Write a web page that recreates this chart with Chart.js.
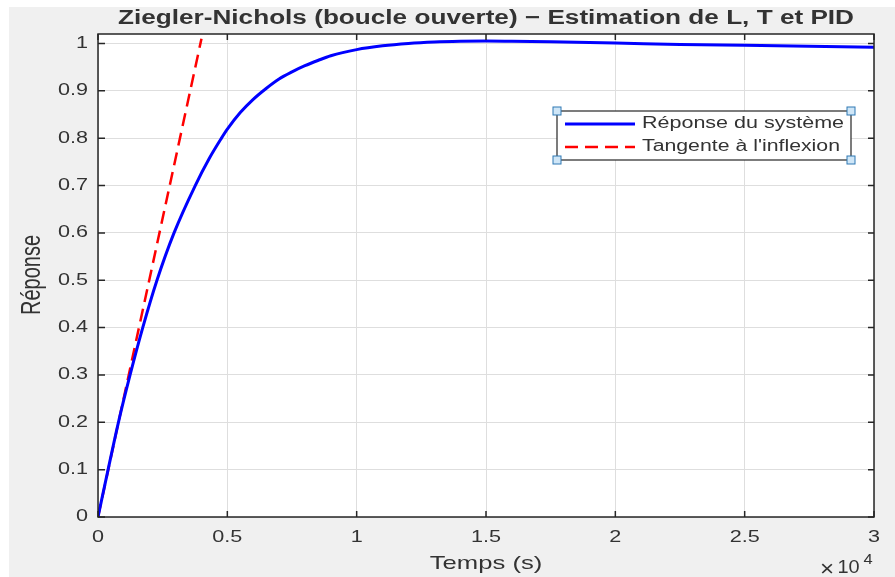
<!DOCTYPE html>
<html>
<head>
<meta charset="utf-8">
<script src="https://cdn.jsdelivr.net/npm/chart.js@4.4.0/dist/chart.umd.min.js"></script>
<style>
  body { margin: 0; background: #fff; }
  #graphe { display: block; }
</style>
</head>
<body>
<canvas id="graphe" width="895" height="577"></canvas>
<script>
// donnees (temps en s)
var temps = [0, 390, 790, 1240, 1730, 2280, 2940, 3760, 4300, 4750, 5000, 5500, 6000, 6500, 7000, 7500, 8000, 8500, 9000, 10000, 11000, 12000, 13000, 14000, 15000, 16000, 17500, 20000, 22500, 25000, 27500, 30000]
var reponse = [0, 0.1, 0.2, 0.3, 0.4, 0.5, 0.6, 0.7, 0.757, 0.798, 0.819, 0.854, 0.882, 0.905, 0.925, 0.94, 0.953, 0.964, 0.974, 0.987, 0.995, 1.0, 1.003, 1.0045, 1.005, 1.0045, 1.0035, 1.001, 0.998, 0.996, 0.994, 0.992]
var tempsTangente = [0, 4000]
var tangente = [0, 1.01]
var ticksX = [0, 5000, 10000, 15000, 20000, 25000, 30000]
var titre = "Ziegler-Nichols (boucle ouverte) \u2212 Estimation de L, T et PID"
var nomsSeries = ["Réponse du système", "Tangente à l'inflexion"]

var etirement = 1.35
var couleurTexte = "#333333"

function points(xs, ys) {
    var res = []
    for (var i = 0; i < xs.length; i++) res.push({ x: xs[i], y: ys[i] })
    return res
}

// texte etire horizontalement comme sur la capture
function ecrire(ctx, s, x, y, font, align, largeur, sxFixe) {
    ctx.save()
    ctx.font = font
    var sx = sxFixe || etirement
    if (largeur) sx = largeur / ctx.measureText(s).width
    ctx.translate(x, y)
    ctx.scale(sx, 1)
    ctx.textAlign = align
    ctx.textBaseline = "middle"
    ctx.fillStyle = couleurTexte
    ctx.fillText(s, 0, 0)
    ctx.restore()
}

var fond = {
    id: "fond",
    beforeDraw: function (chart) {
        var ctx = chart.ctx, a = chart.chartArea
        ctx.save()
        ctx.fillStyle = "#ffffff"
        ctx.fillRect(0, 0, chart.width, chart.height)
        ctx.fillStyle = "#f0f0f0"
        ctx.fillRect(9, 7, chart.width - 9, chart.height - 7)
        ctx.fillStyle = "#ffffff"
        ctx.fillRect(a.left, a.top, a.right - a.left, a.bottom - a.top)
        ctx.restore()
    }
}

var habillage = {
    id: "habillage",
    afterDraw: function (chart) {
        var ctx = chart.ctx, a = chart.chartArea
        var sx = chart.scales.x, sy = chart.scales.y
        ctx.save()
        // cadre + graduations vers l'interieur
        ctx.strokeStyle = "#262626"
        ctx.lineWidth = 1.5
        ctx.strokeRect(a.left, a.top, a.right - a.left, a.bottom - a.top)
        ctx.beginPath()
        sx.ticks.forEach(function (t) {
            var px = sx.getPixelForValue(t.value)
            ctx.moveTo(px, a.bottom); ctx.lineTo(px, a.bottom - 6)
            ctx.moveTo(px, a.top); ctx.lineTo(px, a.top + 6)
        })
        sy.ticks.forEach(function (t) {
            var py = sy.getPixelForValue(t.value)
            ctx.moveTo(a.left, py); ctx.lineTo(a.left + 7, py)
            ctx.moveTo(a.right, py); ctx.lineTo(a.right - 6, py)
        })
        ctx.stroke()

        // etiquettes des axes
        sx.ticks.forEach(function (t) {
            var px = sx.getPixelForValue(t.value)
            ecrire(ctx, String(t.value / 10000), px, a.bottom + 21, "16px 'Liberation Sans'", "center")
        })
        sy.ticks.forEach(function (t) {
            var py = sy.getPixelForValue(t.value)
            ecrire(ctx, String(Number(t.value.toFixed(1))), a.left - 10, py, "16px 'Liberation Sans'", "right")
        })
        ecrire(ctx, "\u00d7", 827, 570, "22px 'Liberation Sans'", "center", 0, 1.1)
        ecrire(ctx, "10", 848.5, 568, "19px 'Liberation Sans'", "center", 0, 1.05)
        ecrire(ctx, "4", 868, 560, "15px 'Liberation Sans'", "center", 0, 1.1)

        // titre et noms des axes
        ecrire(ctx, titre, (a.left + a.right) / 2, 18, "bold 20px 'Liberation Sans'", "center", 736)
        ecrire(ctx, "Temps (s)", (a.left + a.right) / 2, 564, "19px 'Liberation Sans'", "center")
        ctx.save()
        ctx.translate(33, 275)
        ctx.rotate(-Math.PI / 2)
        ctx.scale(1, etirement)
        ctx.font = "20px 'Liberation Sans'"
        ctx.textAlign = "center"
        ctx.textBaseline = "middle"
        ctx.fillStyle = couleurTexte
        ctx.fillText("Réponse", 0, 0)
        ctx.restore()

        // legende dans le graphe
        var lx = 557, ly = 111, lw = 294, lh = 49
        ctx.fillStyle = "#ffffff"
        ctx.fillRect(lx, ly, lw, lh)
        ctx.strokeStyle = "#262626"
        ctx.lineWidth = 1.2
        ctx.strokeRect(lx, ly, lw, lh)
        chart.data.datasets.forEach(function (ds, i) {
            var y = ly + 13 + i * 23
            ctx.beginPath()
            ctx.strokeStyle = ds.borderColor
            ctx.lineWidth = ds.borderWidth
            ctx.setLineDash(ds.borderDash || [])
            ctx.moveTo(565, y); ctx.lineTo(635, y)
            ctx.stroke()
            ctx.setLineDash([])
            ecrire(ctx, ds.label, 642, y, "16px 'Liberation Sans'", "left", 202 - i * 4)
        })
        ctx.lineWidth = 1
        ;[[lx, ly], [lx + lw, ly], [lx, ly + lh], [lx + lw, ly + lh]].forEach(function (c) {
            ctx.fillStyle = "#cfe6f7"
            ctx.strokeStyle = "#2f79b4"
            ctx.fillRect(c[0] - 4, c[1] - 4, 8, 8)
            ctx.strokeRect(c[0] - 4, c[1] - 4, 8, 8)
        })
        ctx.restore()
    }
}

var ctx = document.getElementById("graphe").getContext("2d")
var graphe = new Chart(ctx, {
    type: "scatter",
    data: {
        datasets: [{
            label: nomsSeries[0],
            data: points(temps, reponse),
            showLine: true,
            borderColor: "#0000ff",
            borderWidth: 3,
            pointRadius: 0,
            cubicInterpolationMode: "monotone"
        }, {
            label: nomsSeries[1],
            data: points(tempsTangente, tangente),
            showLine: true,
            borderColor: "#ff0000",
            borderWidth: 2.5,
            borderDash: [13, 7],
            pointRadius: 0
        }]
    },
    options: {
        responsive: false,
        animation: false,
        layout: { padding: { top: 34, right: 21, left: 0, bottom: 0 } },
        plugins: {
            legend: { display: false },
            title: { display: false },
            tooltip: { enabled: false }
        },
        scales: {
            x: {
                type: "linear",
                min: 0,
                max: 30000,
                afterBuildTicks: function (s) { s.ticks = ticksX.map(function (v) { return { value: v } }) },
                ticks: { display: false },
                grid: { color: "#dedede", lineWidth: 1, drawTicks: false },
                border: { display: false },
                afterFit: function (s) { s.height = 60 }
            },
            y: {
                min: 0,
                max: 1.02,
                ticks: { display: false, stepSize: 0.1, includeBounds: false },
                grid: { color: "#dedede", lineWidth: 1, drawTicks: false },
                border: { display: false },
                afterFit: function (s) { s.width = 98 }
            }
        }
    },
    plugins: [fond, habillage]
})
</script>
</body>
</html>
